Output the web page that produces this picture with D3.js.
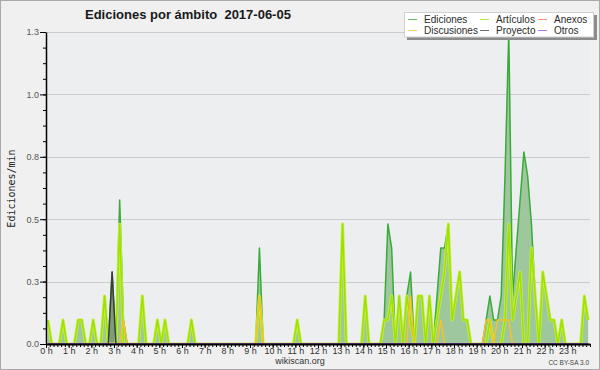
<!DOCTYPE html>
<html>
<head>
<meta charset="utf-8">
<script src="https://cdnjs.cloudflare.com/ajax/libs/d3/7.8.5/d3.min.js"></script>
<style>
    body { margin: 0; background: #f0f0f0; }
    #chart-area { width: 600px; height: 370px; }
    text { font-family: "Liberation Sans", "DejaVu Sans", sans-serif; }
</style>
</head>
<body>
<div id="chart-area"></div>
<script>

// Edits per minute in 10 minute bins: [bin index, value]. Bins not listed are 0.
var binCount = 144;

var ediciones = [[0,0.1],[4,0.1],[8,0.1],[9,0.1],[12,0.1],[15,0.2],[17,0.3],[19,0.6],[20,0.1],
    [25,0.2],[29,0.1],[31,0.1],[38,0.1],[56,0.4],[66,0.1],[78,0.5],[84,0.2],
    [89,0.1],[90,0.5],[91,0.4],[93,0.2],[95,0.2],[96,0.3],[98,0.2],[99,0.2],[101,0.2],
    [103,0.2],[104,0.4],[105,0.4],[106,0.5],[107,0.1],[108,0.2],[109,0.3],[110,0.1],[111,0.1],
    [116,0.1],[117,0.2],[118,0.1],[119,0.1],[120,0.2],[121,0.7],[122,1.3],[123,0.2],[124,0.4],
    [125,0.6],[126,0.8],[127,0.7],[128,0.5],[129,0.2],[131,0.3],[132,0.2],[133,0.1],[134,0.1],
    [136,0.1],[142,0.2],[143,0.1]];

var articulos = [[0,0.1],[4,0.1],[8,0.1],[9,0.1],[12,0.1],[15,0.2],[19,0.5],[25,0.2],[29,0.1],
    [31,0.1],[38,0.1],[56,0.2],[66,0.1],[78,0.5],[84,0.2],[89,0.1],[90,0.1],[91,0.2],[93,0.2],
    [95,0.2],[96,0.1],[98,0.2],[99,0.2],[101,0.2],[103,0.1],[104,0.2],[105,0.3],[106,0.5],
    [107,0.1],[108,0.2],[109,0.3],[110,0.1],[111,0.1],[117,0.1],[121,0.1],[122,0.5],[123,0.1],
    [124,0.2],[125,0.3],[128,0.4],[129,0.2],[131,0.3],[132,0.2],[133,0.1],[134,0.1],[136,0.1],
    [142,0.2],[143,0.1]];

var anexos = [];

var discusiones = [[20,0.1],[56,0.2],[96,0.2],[104,0.1],[116,0.1],[117,0.1],[119,0.1],
    [120,0.1],[121,0.1],[122,0.1]];

var proyecto = [[17,0.3]];

var otros = [];

var seriesNames = ["Ediciones", "Artículos", "Anexos", "Discusiones", "Proyecto", "Otros"];
var seriesColors = ["#3aaa3a", "#9ee000", "#ff7040", "#f8c224", "#3c3c3c", "#9a48e8"];

var hourLabels = d3.range(24).map(function(h) { return h + " h"; });
var yTickLabels = ["0.0", "0.3", "0.5", "0.8", "1.0", "1.3"];


/*
 * ScopeChart - Object constructor function
 * @param _parentElement  -- the HTML element in which to draw the visualization
 */
ScopeChart = function(_parentElement) {
    this.parentElement = _parentElement;
    this.initVis();
}

ScopeChart.prototype.expand = function(pairs) {
    var values = new Array(binCount).fill(0);
    pairs.forEach(function(p) { values[p[0]] = p[1]; });
    return values.map(function(v, i) { return { min: i * 10 + 5, value: v }; });
}

ScopeChart.prototype.initVis = function() {
    var vis = this;

    vis.margin = { top: 32, right: 10, bottom: 26, left: 46 };
    vis.width = 600 - vis.margin.left - vis.margin.right;
    vis.height = 370 - vis.margin.top - vis.margin.bottom;

    vis.root = d3.select("#" + vis.parentElement).append("svg")
        .attr("width", 600)
        .attr("height", 370);

    vis.root.append("rect")
        .attr("x", 0.5).attr("y", 0.5)
        .attr("width", 599).attr("height", 369)
        .attr("fill", "#f0f0f0")
        .attr("stroke", "#a9a9a9");

    vis.svg = vis.root.append("g")
        .attr("transform", "translate(" + vis.margin.left + "," + vis.margin.top + ")");

    vis.svg.append("rect")
        .attr("width", vis.width)
        .attr("height", vis.height)
        .attr("fill", "#edeef0");

    vis.svg.append("clipPath").attr("id", "plot-clip")
        .append("rect")
        .attr("width", vis.width)
        .attr("height", vis.height);

    vis.data = {
        ediciones: vis.expand(ediciones),
        articulos: vis.expand(articulos),
        anexos: vis.expand(anexos),
        discusiones: vis.expand(discusiones),
        proyecto: vis.expand(proyecto),
        otros: vis.expand(otros)
    };

    // Scales
    vis.x = d3.scaleLinear()
        .domain([0, 24 * 60])
        .range([0, vis.width]);

    vis.yMax = d3.max(vis.data.ediciones, function(d) { return d.value; });
    vis.y = d3.scaleLinear()
        .domain([0, vis.yMax])
        .range([vis.height, 0]);

    vis.yTicks = yTickLabels.map(function(l, i) { return vis.yMax * i / (yTickLabels.length - 1); });

    vis.updateVis();
}

ScopeChart.prototype.updateVis = function() {
    var vis = this;

    //======= Grid ======//
    vis.svg.append("g")
        .selectAll("line")
        .data(vis.yTicks.slice(1))
        .enter().append("line")
        .attr("x1", 0).attr("x2", vis.width)
        .attr("y1", function(d) { return Math.round(vis.y(d)) + 0.5; })
        .attr("y2", function(d) { return Math.round(vis.y(d)) + 0.5; })
        .attr("stroke", "#cdcdcd");

    var plot = vis.svg.append("g").attr("clip-path", "url(#plot-clip)");

    vis.area = d3.area()
        .x(function(d) { return vis.x(d.min); })
        .y0(vis.y(0))
        .y1(function(d) { return vis.y(d.value); });

    vis.line = d3.line()
        .x(function(d) { return vis.x(d.min); })
        .y(function(d) { return vis.y(d.value); });

    //======= Areas ======//
    plot.append("path")
        .datum(vis.data.ediciones)
        .attr("fill", "#9ec79e")
        .attr("d", vis.area);

    plot.append("path")
        .datum(vis.data.proyecto)
        .attr("fill", "#3c4c3c")
        .attr("fill-opacity", 0.35)
        .attr("d", vis.area);

    //======= Lines ======//
    var order = [
        { key: "ediciones", color: seriesColors[0], w: 1.5 },
        { key: "articulos", color: "#c4f040", w: 3 },      // soft halo under the lime line
        { key: "articulos", color: seriesColors[1], w: 1.5 },
        { key: "anexos", color: seriesColors[2], w: 1.5 },
        { key: "discusiones", color: seriesColors[3], w: 1.5 },
        { key: "proyecto", color: seriesColors[4], w: 1.5 },
        { key: "otros", color: seriesColors[5], w: 1.5 }
    ];

    order.forEach(function(s) {
        plot.append("path")
            .datum(vis.data[s.key])
            .attr("fill", "none")
            .attr("stroke", s.color)
            .attr("stroke-width", s.w)
            .attr("stroke-linejoin", "round")
            .attr("d", vis.line);
    });

    //======= Axes ======//
    var yMinor = d3.range(0, 21).map(function(i) { return vis.yMax * i / 20; });

    vis.svg.append("g")
        .call(d3.axisLeft(vis.y).tickValues(yMinor).tickSize(3).tickSizeOuter(0).tickFormat(""))
        .call(function(g) { g.select(".domain").remove(); });

    vis.svg.append("g")
        .attr("class", "y-axis")
        .call(d3.axisLeft(vis.y)
            .tickValues(vis.yTicks)
            .tickSize(6)
            .tickSizeOuter(0)
            .tickPadding(1)
            .tickFormat(function(d, i) { return yTickLabels[i]; }))
        .call(function(g) {
            g.select(".domain").attr("stroke-width", 1.5);
            g.selectAll("text").attr("fill", "#555").style("font-size", "9px");
        });

    vis.svg.append("g")
        .attr("transform", "translate(0," + vis.height + ")")
        .call(d3.axisBottom(vis.x).tickValues(d3.range(0, 24 * 60 + 1, 10)).tickSize(3).tickSizeOuter(0).tickFormat(""))
        .call(function(g) { g.select(".domain").remove(); });

    vis.svg.append("g")
        .attr("class", "x-axis")
        .attr("transform", "translate(0," + vis.height + ")")
        .call(d3.axisBottom(vis.x)
            .tickValues(hourLabels.map(function(l, i) { return i * 60; }))
            .tickSize(4)
            .tickSizeOuter(0)
            .tickPadding(0)
            .tickFormat(function(d, i) { return hourLabels[i]; }))
        .call(function(g) {
            g.select(".domain").attr("stroke-width", 2);
            g.selectAll("text").attr("fill", "#333").style("font-size", "9px");
        });

    //======= Labels ======//
    vis.root.append("text")
        .attr("x", 85).attr("y", 18.5)
        .style("font-size", "13px")
        .style("font-weight", "bold")
        .style("white-space", "pre")
        .attr("fill", "#1a1a1a")
        .text("Ediciones por ámbito  2017-06-05");

    vis.root.append("text")
        .attr("transform", "translate(14.5,188.5) rotate(-90)")
        .attr("text-anchor", "middle")
        .style("font-family", "'DejaVu Sans Mono', monospace")
        .style("font-size", "10px")
        .attr("fill", "#222")
        .text("Ediciones/min");

    vis.root.append("text")
        .attr("x", 300).attr("y", 363.5)
        .attr("text-anchor", "middle")
        .style("font-size", "9px")
        .attr("fill", "#333")
        .text("wikiscan.org");

    vis.root.append("text")
        .attr("x", 589).attr("y", 365)
        .attr("text-anchor", "end")
        .style("font-size", "6.5px")
        .attr("fill", "#444")
        .text("CC BY-SA 3.0");

    vis.addLegend();
}

/*
 Legend box, three columns by two rows
 */
ScopeChart.prototype.addLegend = function() {
    var vis = this;
    var lg = vis.root.append("g");

    lg.append("rect")
        .attr("x", 407).attr("y", 15)
        .attr("width", 190).attr("height", 25)
        .attr("fill", "#8c8c8c");

    lg.append("rect")
        .attr("x", 404.5).attr("y", 12.5)
        .attr("width", 189).attr("height", 24.5)
        .attr("fill", "#ffffff")
        .attr("stroke", "#d0d0d0");

    var colX = [408, 480, 538];
    var rowY = [19, 30];

    seriesNames.forEach(function(name, i) {
        var cx = colX[i % 3];
        var cy = rowY[Math.floor(i / 3)];
        lg.append("line")
            .attr("x1", cx).attr("x2", cx + 9)
            .attr("y1", cy + 0.5).attr("y2", cy + 0.5)
            .attr("stroke", seriesColors[i])
            .attr("stroke-opacity", 0.75);
        lg.append("text")
            .attr("x", cx + 16).attr("y", cy + 3.5)
            .style("font-size", "10px")
            .attr("fill", "#2a2a2a")
            .text(name);
    });
}

var chart = new ScopeChart("chart-area");

</script>
</body>
</html>
